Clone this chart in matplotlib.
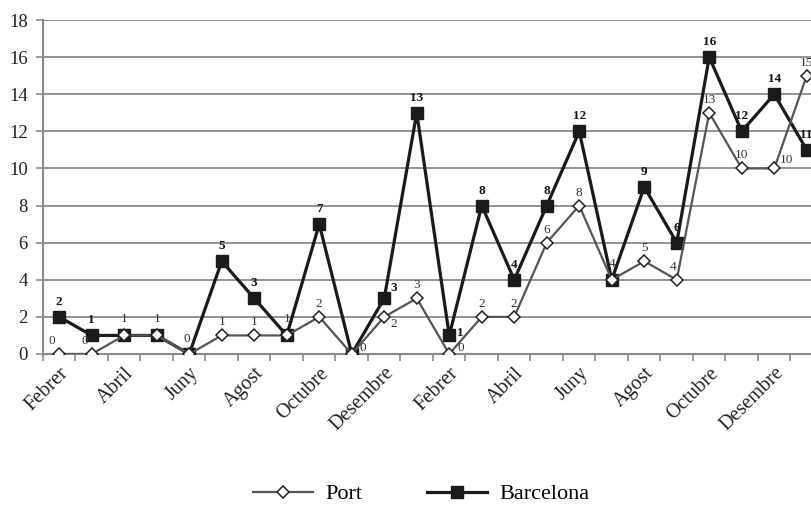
import numpy as np
import matplotlib.pyplot as plt

plt.rcParams['font.family'] = ['Liberation Serif', 'DejaVu Serif']

# months: Febrer .. Desembre, Gener .. Desembre, Gener
months = ['Febrer', 'Març', 'Abril', 'Maig', 'Juny', 'Juliol', 'Agost', 'Setembre',
          'Octubre', 'Novembre', 'Desembre', 'Gener',
          'Febrer', 'Març', 'Abril', 'Maig', 'Juny', 'Juliol', 'Agost', 'Setembre',
          'Octubre', 'Novembre', 'Desembre', 'Gener']
port = [0, 0, 1, 1, 0, 1, 1, 1, 2, 0, 2, 3, 0, 2, 2, 6, 8, 4, 5, 4, 13, 10, 10, 15]
barcelona = [2, 1, 1, 1, 0, 5, 3, 1, 7, 0, 3, 13, 1, 8, 4, 8, 12, 4, 9, 6, 16, 12, 14, 11]

# label placement tweaks (pixel offsets from point)
port_lab = {0: (-7, 7, 'center', 'bottom'), 1: (-7, 7, 'center', 'bottom'),
            4: (-2, 9, 'center', 'bottom'), 19: (-4, 7, 'center', 'bottom'),
            9: (8, 0, 'left', 'bottom'), 10: (6, -1, 'left', 'top'),
            12: (8, 0, 'left', 'bottom'), 22: (6, 2, 'left', 'bottom')}
bcn_lab = {10: (6, 4, 'left', 'bottom'), 12: (8, -4, 'left', 'bottom')}

fig = plt.figure(figsize=(8.12, 5.05), dpi=100)
ax = fig.add_axes([43 / 812, 151 / 505, 780 / 812, 334 / 505])

x = np.arange(len(months))
grid_c = '#8a8a8a'

for v in range(2, 19, 2):
    ax.axhline(v, color=grid_c, lw=1.3, zorder=0)

ax.plot(x, barcelona, color='#1a1a1a', lw=2.3, marker='s', ms=8.5,
        mfc='#1a1a1a', mec='#1a1a1a', zorder=3, label='Barcelona')
ax.plot(x, port, color='#555555', lw=1.6, marker='D', ms=6.5,
        mfc='white', mec='#222222', mew=1.1, zorder=4, label='Port')

for i, v in enumerate(port):
    # lift the label a bit when the black square sits under the diamond
    default = (0, 10 if barcelona[i] == v else 7, 'center', 'bottom')
    dx, dy, ha, va = port_lab.get(i, default)
    ax.annotate(str(v), (i, v), xytext=(dx, dy), textcoords='offset pixels',
                ha=ha, va=va, fontsize=9.5, color='#333333', zorder=6)

for i, v in enumerate(barcelona):
    if v == port[i]:
        continue
    dx, dy, ha, va = bcn_lab.get(i, (0, 9, 'center', 'bottom'))
    ax.annotate(str(v), (i, v), xytext=(dx, dy), textcoords='offset pixels',
                ha=ha, va=va, fontsize=9.5, fontweight='bold', color='#111111', zorder=6)

ax.set_xlim(-0.5, len(months) - 0.5)
ax.set_ylim(0, 18)
ax.set_yticks(range(0, 19, 2))
ax.tick_params(axis='y', length=5, width=1.2, color=grid_c, labelsize=13.5, pad=6,
               labelcolor='#222222')

ax.set_xticks(np.arange(-0.5, len(months), 1))
ax.set_xticklabels([])
ax.tick_params(axis='x', which='major', length=5, width=1.2, color=grid_c)
ax.set_xticks(x[::2], minor=True)
ax.set_xticklabels(months[::2], minor=True, rotation=45, ha='right',
                   rotation_mode='anchor', fontsize=14.5, color='#222222')
ax.tick_params(axis='x', which='minor', length=0, pad=7)

for s in ['top', 'right']:
    ax.spines[s].set_visible(False)
ax.spines['left'].set_color(grid_c)
ax.spines['left'].set_linewidth(1.5)
ax.spines['bottom'].set_color(grid_c)
ax.spines['bottom'].set_linewidth(1.5)

h, l = ax.get_legend_handles_labels()
fig.legend(h[::-1], l[::-1], loc='center', bbox_to_anchor=(421 / 812, 1 - 494 / 505),
           ncol=2, frameon=False, fontsize=16, handlelength=2.7, columnspacing=2.9,
           handletextpad=0.55)

fig.savefig('out.png', dpi=100)
